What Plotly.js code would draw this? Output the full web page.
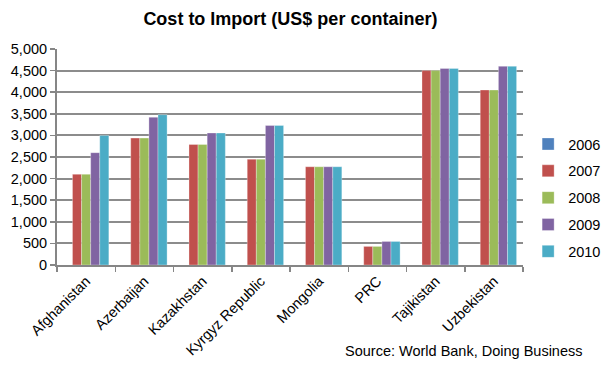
<!DOCTYPE html>
<html>
<head>
<meta charset="utf-8">
<script src="https://cdn.plot.ly/plotly-3.0.1.min.js"></script>
<style>html,body{margin:0;padding:0;background:#fff;}#chart{width:605px;height:367px;}</style>
</head>
<body>
<div id="chart"></div>
<script>
const categories = ["Afghanistan","Azerbaijan","Kazakhstan","Kyrgyz Republic","Mongolia","PRC","Tajikistan","Uzbekistan"];
const years = ["2006","2007","2008","2009","2010"];
const v2006 = [null,null,null,null,null,null,null,null];
const v2007 = [2100,2937,2790,2450,2274,430,4500,4050];
const v2008 = [2100,2937,2790,2450,2274,430,4500,4050];
const v2009 = [2600,3420,3055,3230,2274,545,4550,4600];
const v2010 = [3000,3480,3055,3230,2274,545,4550,4600];
const colors = ["#4F81BD","#C0504D","#9BBB59","#8064A2","#4BACC6"];
const series = [v2006,v2007,v2008,v2009,v2010];

const traces = series.map((vals,i)=>({
  type:"bar", name: years[i], x: categories, y: vals, legendgroup: years[i],
  marker:{color: colors[i], line:{color:"rgba(255,255,255,0.6)", width:0.5}}
}));

const layout = {
  width:605, height:367,
  margin:{l:57, r:82, t:49, b:102, autoexpand:false},
  paper_bgcolor:"#fff", plot_bgcolor:"#fff",
  font:{family:"Liberation Sans, Arial, sans-serif", size:14, color:"#000"},
  title:{text:"<b>Cost to Import (US$ per container)</b>", x:0.48, xanchor:"center", y:0.95, yanchor:"middle", font:{size:18}},
  barmode:"group", bargap:0.22, bargroupgap:0,
  xaxis:{type:"category", tickangle:-45, showline:true, linecolor:"#868686", linewidth:2,
         ticks:"outside", tickson:"boundaries", ticklen:5, tickcolor:"#868686", tickwidth:1.5,
         tickfont:{size:14.5}, showgrid:false, automargin:false},
  yaxis:{range:[0,5000], dtick:500, tickformat:",d", showline:true, linecolor:"#868686", linewidth:2,
         ticks:"outside", ticklen:5, tickcolor:"#868686", tickwidth:1.5, automargin:false,
         showgrid:true, gridcolor:"#8c8c8c", gridwidth:2, zeroline:false, tickfont:{size:14.5}},
  legend:{x:1.011, xanchor:"left", y:0.31, yanchor:"middle", font:{size:14.5}, tracegroupgap:5, itemwidth:30},
  annotations:[{text:"Source: World Bank, Doing Business", xref:"paper", yref:"paper", x:1.133, xanchor:"right",
                y:-0.4, yanchor:"middle", showarrow:false, font:{size:14.5}}]
};
Plotly.newPlot("chart", traces, layout, {displayModeBar:false, staticPlot:true});
</script>
</body>
</html>
